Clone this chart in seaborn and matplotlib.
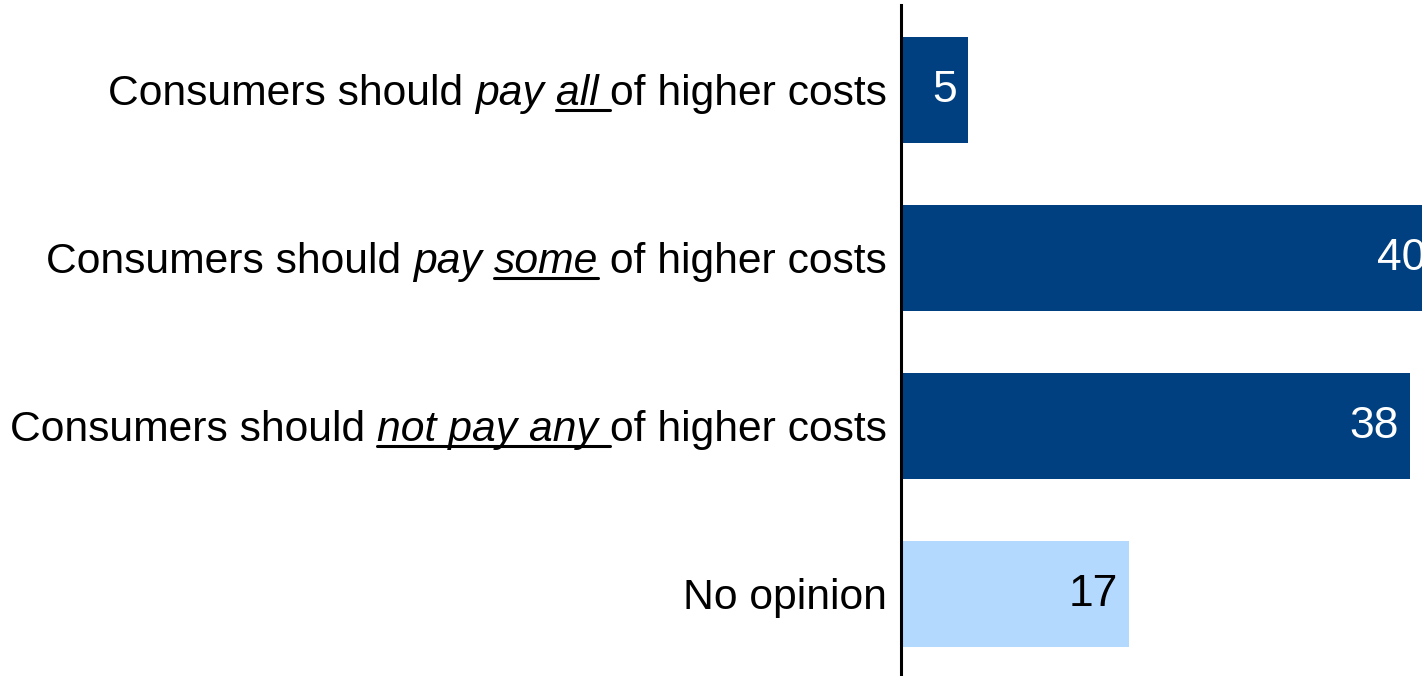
import matplotlib
matplotlib.use("Agg")
import matplotlib.pyplot as plt
from matplotlib.transforms import IdentityTransform
import seaborn as sns
import pandas as pd

categories = ["pay_all", "pay_some", "pay_none", "no_opinion"]
values = [5, 40, 38, 17]
kinds = ["view", "view", "view", "none"]
label_segments = [
    [("Consumers should ", "normal", False), ("pay ", "italic", False), ("all ", "italic", True), ("of higher costs", "normal", False)],
    [("Consumers should ", "normal", False), ("pay ", "italic", False), ("some", "italic", True), (" of higher costs", "normal", False)],
    [("Consumers should ", "normal", False), ("not pay any ", "italic", True), ("of higher costs", "normal", False)],
    [("No opinion", "normal", False)],
]

DARK = "#004080"
LIGHT = "#B3D9FF"

sns.set_theme(style="white")
plt.rcParams["font.family"] = ["Liberation Sans", "DejaVu Sans"]

W, H = 1422, 676
fig = plt.figure(figsize=(W / 100, H / 100), dpi=100)
ax = fig.add_axes([901 / W, 0, 1 - 901 / W, (H - 5) / H])

df = pd.DataFrame({"cat": categories, "val": values, "kind": kinds})
sns.barplot(data=df, y="cat", x="val", hue="kind", palette={"view": DARK, "none": LIGHT},
            orient="h", width=0.63, dodge=False, legend=False, ax=ax, saturation=1)

ax.set_xlim(0, 521 / 13.4)
ax.set_ylim(3.488, -0.506)
for s in ["top", "right", "bottom"]:
    ax.spines[s].set_visible(False)
ax.spines["left"].set_color("black")
ax.spines["left"].set_linewidth(2.2)
ax.set_xticks([])
ax.set_yticks(range(len(categories)))
ax.set_yticklabels([])
ax.tick_params(left=False)
ax.set_xlabel("")
ax.set_ylabel("")

for patch in ax.patches:
    patch.set_linewidth(0)

for i, v in enumerate(values):
    col = "white" if kinds[i] == "view" else "black"
    ax.annotate(str(v), xy=(v, i), xytext=(-8, 0), textcoords="offset points",
                ha="right", va="center", fontsize=32, color=col, annotation_clip=False)

fig.canvas.draw()
renderer = fig.canvas.get_renderer()
LABEL_FS = 30.7
right_px = 887
for i, segs in enumerate(label_segments):
    yc = ax.transData.transform((0, i))[1]
    base = yc - 15
    texts = []
    widths = []
    for txt, style, ul in segs:
        t = fig.text(0, base, txt, fontsize=LABEL_FS, style=style, ha="left", va="baseline",
                     transform=IdentityTransform(), color="black")
        bb = t.get_window_extent(renderer)
        texts.append((t, ul))
        widths.append(bb.width)
    total = sum(widths)
    x = right_px - total
    for (t, ul), w in zip(texts, widths):
        t.set_x(x)
        if ul:
            line = plt.Line2D([x, x + w], [base - 5, base - 5], transform=IdentityTransform(),
                              color="black", linewidth=2.2)
            fig.add_artist(line)
        x += w

fig.savefig("out.png", dpi=100)
